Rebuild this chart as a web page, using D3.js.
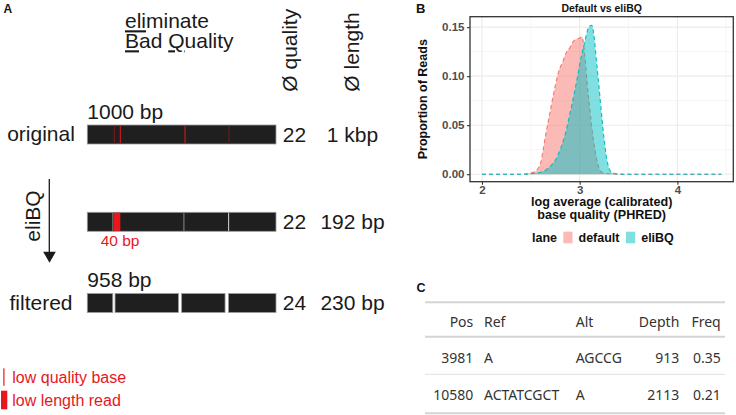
<!DOCTYPE html>
<html>
<head>
<meta charset="utf-8">
<script src="https://cdn.jsdelivr.net/npm/d3@7"></script>
<style>
  html, body { margin: 0; padding: 0; background: #fff; }
  svg { display: block; }
</style>
</head>
<body>
<div id="chart"></div>
<script>
// ---------------- DATA ----------------
// Panel A
const readLengthBp = 1000;
const rowNames = ["original", "eliBQ", "filtered"];
const rowSideLabels = ["original", "", "filtered"];
const rowTopLabels = ["1000 bp", "", "958 bp"];
const rowQuality = [22, 22, 24];
const rowLength = ["1 kbp", "192 bp", "230 bp"];
const lowQualityBases = [143, 175, 518, 751];          // bp positions in original read
const eliBQSeparators = [135, 512, 749];               // bp positions in eliBQ read
const lowLengthRead = [135, 175];                      // bp span (40 bp)
const filteredSegments = [[0, 135], [147, 483], [500, 730], [748, 1000]];
const legendItems = ["low quality base", "low length read"];

// Panel B
const quality = [2.0, 2.4, 2.45, 2.475, 2.5, 2.525, 2.55, 2.575, 2.6, 2.625, 2.65, 2.675, 2.7, 2.725, 2.75, 2.775,
  2.8, 2.825, 2.85, 2.875, 2.9, 2.925, 2.95, 2.975, 3.0, 3.025, 3.05, 3.075, 3.1, 3.125, 3.15, 3.175,
  3.2, 3.225, 3.25, 3.275, 3.3, 3.325, 3.35, 3.4, 3.45, 4.45];
const defaultProp = [0, 0, 0.0003, 0.0006, 0.001, 0.002, 0.003, 0.006, 0.011, 0.024, 0.039, 0.052, 0.065, 0.078, 0.090, 0.101,
  0.109, 0.114, 0.121, 0.126, 0.129, 0.134, 0.137, 0.138, 0.139, 0.140, 0.123, 0.095, 0.070, 0.047, 0.029, 0.015,
  0.006, 0.002, 0.001, 0.0007, 0.0005, 0.0004, 0.0003, 0.0002, 0, 0];
const eliBQProp = [0, 0, 0, 0.0003, 0.0005, 0.0008, 0.001, 0.0015, 0.002, 0.003, 0.004, 0.006, 0.008, 0.011, 0.014, 0.019,
  0.025, 0.032, 0.040, 0.050, 0.062, 0.073, 0.085, 0.098, 0.112, 0.124, 0.134, 0.145, 0.151, 0.152, 0.138, 0.112,
  0.087, 0.060, 0.036, 0.017, 0.006, 0.002, 0.001, 0, 0, 0];
const lanes = ["default", "eliBQ"];
const xTicks = [2, 3, 4];
const xMinor = [2.5, 3.5, 4.5];
const yTicks = [0, 0.05, 0.10, 0.15];
const yMinor = [0.025, 0.075, 0.125];

// Panel C
const tableColumns = ["Pos", "Ref", "Alt", "Depth", "Freq"];
const tablePos = [3981, 10580];
const tableRef = ["A", "ACTATCGCT"];
const tableAlt = ["AGCCG", "A"];
const tableDepth = [913, 2113];
const tableFreq = [0.35, 0.21];

// ---------------- DRAW ----------------
const W = 736, H = 415;
const svg = d3.select("#chart").append("svg").attr("width", W).attr("height", H);
const ARIAL = "'Liberation Sans', Arial, sans-serif";
const RED = "#e8161e";

// ===== Panel A =====
const A = svg.append("g").attr("font-family", ARIAL);
A.append("text").attr("x", 3.5).attr("y", 13.3).attr("font-weight", "bold").attr("font-size", 12)
  .attr("fill", "#111").text("A");

const title1 = A.append("text").attr("x", 125).attr("y", 28.3).attr("font-size", 21).attr("fill", "#1a1a1a");
title1.append("tspan").style("text-decoration", "underline").text("eli");
title1.append("tspan").text("minate");
const title2 = A.append("text").attr("x", 125).attr("y", 48.3).attr("font-size", 21).attr("fill", "#1a1a1a");
title2.append("tspan").style("text-decoration", "underline").text("B");
title2.append("tspan").text("ad ");
title2.append("tspan").style("text-decoration", "underline").text("Q");
title2.append("tspan").text("uality");

A.append("text").attr("transform", "translate(297,91.7) rotate(-90)").attr("font-size", 21)
  .attr("fill", "#1a1a1a").text("Ø quality");
A.append("text").attr("transform", "translate(358.5,91.7) rotate(-90)").attr("font-size", 21)
  .attr("fill", "#1a1a1a").text("Ø length");

const bp = d3.scaleLinear().domain([0, readLengthBp]).range([87.3, 276]);
const rowTop = d3.scaleOrdinal().domain(rowNames).range([125, 212.3, 293.5]);
const barH = 19;
const BAR_FILL = "#1f1f1f", BAR_STROKE = "#9c9c9c";

rowNames.forEach((r, i) => {
  const y0 = rowTop(r);
  if (rowSideLabels[i]) {
    A.append("text").attr("x", 41).attr("y", y0 + 16).attr("text-anchor", "middle")
      .attr("font-size", 21).attr("fill", "#1a1a1a").text(rowSideLabels[i]);
  }
  if (rowTopLabels[i]) {
    A.append("text").attr("x", bp(0)).attr("y", y0 - 6.5).attr("font-size", 21)
      .attr("fill", "#1a1a1a").text(rowTopLabels[i]);
  }
  A.append("text").attr("x", 294.4).attr("y", y0 + barH - 2.3).attr("text-anchor", "middle")
    .attr("font-size", 21).attr("fill", "#1a1a1a").text(rowQuality[i]);
  A.append("text").attr("x", 352.5).attr("y", y0 + barH - 2.3).attr("text-anchor", "middle")
    .attr("font-size", 21).attr("fill", "#1a1a1a").text(rowLength[i]);
});

// original bar
{
  const y0 = rowTop("original");
  A.append("rect").attr("x", bp(0)).attr("y", y0).attr("width", bp(readLengthBp) - bp(0)).attr("height", barH)
    .attr("fill", BAR_FILL).attr("stroke", BAR_STROKE).attr("stroke-width", 0.8);
  const shades = ["#8a1a1a", RED, RED, "#7a1818"];
  A.selectAll(".lq").data(lowQualityBases).enter().append("line")
    .attr("x1", d => bp(d)).attr("x2", d => bp(d)).attr("y1", y0 + 0.5).attr("y2", y0 + barH - 0.5)
    .attr("stroke", (d, i) => shades[i]).attr("stroke-width", 1);
}
// eliBQ bar
{
  const y0 = rowTop("eliBQ");
  A.append("rect").attr("x", bp(0)).attr("y", y0).attr("width", bp(readLengthBp) - bp(0)).attr("height", barH)
    .attr("fill", BAR_FILL).attr("stroke", BAR_STROKE).attr("stroke-width", 0.8);
  const sepCol = ["#7a7a7a", "#8a8a8a", "#d8d8d8"];
  A.selectAll(".sep").data(eliBQSeparators).enter().append("line")
    .attr("x1", d => bp(d)).attr("x2", d => bp(d)).attr("y1", y0 + 0.4).attr("y2", y0 + barH - 0.4)
    .attr("stroke", (d, i) => sepCol[i]).attr("stroke-width", 1);
  A.append("rect").attr("x", bp(lowLengthRead[0]) + 0.6).attr("y", y0 + 0.4)
    .attr("width", bp(lowLengthRead[1]) - bp(lowLengthRead[0]) - 0.6).attr("height", barH - 0.8).attr("fill", RED);
  A.append("text").attr("x", 100.7).attr("y", 246.3).attr("font-size", 15.5).attr("fill", RED)
    .text((lowLengthRead[1] - lowLengthRead[0]) + " bp");
}
// filtered bar
{
  const y0 = rowTop("filtered");
  A.selectAll(".seg").data(filteredSegments).enter().append("rect")
    .attr("x", d => bp(d[0])).attr("y", y0).attr("width", d => bp(d[1]) - bp(d[0])).attr("height", barH)
    .attr("fill", BAR_FILL).attr("stroke", BAR_STROKE).attr("stroke-width", 0.8);
}
// arrow
A.append("line").attr("x1", 49.3).attr("x2", 49.3).attr("y1", 179).attr("y2", 254)
  .attr("stroke", "#1a1a1a").attr("stroke-width", 1.3);
A.append("path").attr("d", "M43.2,251.8 L55.8,251.8 L49.5,262.8 Z").attr("fill", "#1a1a1a");
A.append("text").attr("transform", "translate(39.5,216) rotate(-90)").attr("text-anchor", "middle")
  .attr("font-size", 21).attr("fill", "#1a1a1a").text("eliBQ");

// legend
A.append("rect").attr("x", 3.3).attr("y", 368.3).attr("width", 1.2).attr("height", 17.5).attr("fill", RED);
A.append("rect").attr("x", 1).attr("y", 390.7).attr("width", 6.3).attr("height", 18.6).attr("fill", RED);
A.append("text").attr("x", 12.3).attr("y", 383.3).attr("font-size", 16).attr("fill", RED).text(legendItems[0]);
A.append("text").attr("x", 12.3).attr("y", 406).attr("font-size", 16).attr("fill", RED).text(legendItems[1]);

// ===== Panel B =====
const B = svg.append("g").attr("font-family", ARIAL);
const px0 = 470, px1 = 733.3, py0 = 16.7, py1 = 181.7;
const xs = d3.scaleLinear().domain([1.8775, 4.5725]).range([px0, px1]);
const ys = d3.scaleLinear().domain([-0.00765, 0.16065]).range([py1, py0]);

B.append("text").attr("x", 416).attr("y", 12.7).attr("font-weight", "bold").attr("font-size", 13)
  .attr("fill", "#111").text("B");
B.append("text").attr("x", (px0 + px1) / 2).attr("y", 11.5).attr("text-anchor", "middle")
  .attr("font-weight", "bold").attr("font-size", 10.5).attr("fill", "#111").text("Default vs eliBQ");

B.append("rect").attr("x", px0).attr("y", py0).attr("width", px1 - px0).attr("height", py1 - py0).attr("fill", "#fff");
const grid = B.append("g");
grid.selectAll(".xmin").data(xMinor).enter().append("line")
  .attr("x1", d => xs(d)).attr("x2", d => xs(d)).attr("y1", py0).attr("y2", py1)
  .attr("stroke", "#f0f0f0").attr("stroke-width", 0.6);
grid.selectAll(".ymin").data(yMinor).enter().append("line")
  .attr("y1", d => ys(d)).attr("y2", d => ys(d)).attr("x1", px0).attr("x2", px1)
  .attr("stroke", "#f0f0f0").attr("stroke-width", 0.6);
grid.selectAll(".xmaj").data(xTicks).enter().append("line")
  .attr("x1", d => xs(d)).attr("x2", d => xs(d)).attr("y1", py0).attr("y2", py1)
  .attr("stroke", "#ebebeb").attr("stroke-width", 1.1);
grid.selectAll(".ymaj").data(yTicks).enter().append("line")
  .attr("y1", d => ys(d)).attr("y2", d => ys(d)).attr("x1", px0).attr("x2", px1)
  .attr("stroke", "#ebebeb").attr("stroke-width", 1.1);

const laneColor = d3.scaleOrdinal().domain(lanes).range(["#F8766D", "#00BFC4"]);
const series = [
  { lane: "default", values: quality.map((q, i) => [q, defaultProp[i]]) },
  { lane: "eliBQ", values: quality.map((q, i) => [q, eliBQProp[i]]) }
];
const area = d3.area().x(d => xs(d[0])).y0(ys(0)).y1(d => ys(d[1])).curve(d3.curveMonotoneX);
const line = d3.line().x(d => xs(d[0])).y(d => ys(d[1])).curve(d3.curveMonotoneX);
series.forEach(s => {
  B.append("path").attr("d", area(s.values)).attr("fill", laneColor(s.lane)).attr("fill-opacity", 0.5);
  B.append("path").attr("d", line(s.values)).attr("fill", "none").attr("stroke", laneColor(s.lane))
    .attr("stroke-width", 1.1).attr("stroke-dasharray", "4,3");
});

B.append("rect").attr("x", px0).attr("y", py0).attr("width", px1 - px0).attr("height", py1 - py0)
  .attr("fill", "none").attr("stroke", "#333").attr("stroke-width", 1.3);

const xAxis = d3.axisBottom(xs).tickValues(xTicks).tickSize(3).tickPadding(0.8).tickFormat(d3.format("d"));
const gx = B.append("g").attr("transform", `translate(0,${py1})`).call(xAxis);
const yAxis = d3.axisLeft(ys).tickValues(yTicks).tickSize(3).tickPadding(2.5).tickFormat(d3.format(".2f"));
const gy = B.append("g").attr("transform", `translate(${px0},0)`).call(yAxis);
[gx, gy].forEach(g => {
  g.select(".domain").remove();
  g.selectAll(".tick line").attr("stroke", "#333").attr("stroke-width", 1.1);
  g.selectAll(".tick text").attr("fill", "#4d4d4d").attr("font-weight", "bold").attr("font-size", 11.5)
    .attr("font-family", ARIAL);
});

B.append("text").attr("transform", `translate(426.5,${(py0 + py1) / 2}) rotate(-90)`).attr("text-anchor", "middle")
  .attr("font-weight", "bold").attr("font-size", 12.5).attr("fill", "#111").text("Proportion of Reads");
B.append("text").attr("x", (px0 + px1) / 2).attr("y", 206.2).attr("text-anchor", "middle")
  .attr("font-weight", "bold").attr("font-size", 12.6).attr("fill", "#111").text("log average (calibrated)");
B.append("text").attr("x", (px0 + px1) / 2).attr("y", 218.8).attr("text-anchor", "middle")
  .attr("font-weight", "bold").attr("font-size", 12.6).attr("fill", "#111").text("base quality (PHRED)");

// legend
B.append("text").attr("x", 532).attr("y", 242).attr("font-weight", "bold").attr("font-size", 12.5)
  .attr("fill", "#111").text("lane");
const legX = [563.3, 626];
lanes.forEach((l, i) => {
  B.append("rect").attr("x", legX[i]).attr("y", 231.7).attr("width", 9.2).attr("height", 11.6)
    .attr("fill", laneColor(l)).attr("fill-opacity", 0.5);
  B.append("text").attr("x", legX[i] + 15.2).attr("y", 242).attr("font-weight", "bold").attr("font-size", 12.5)
    .attr("fill", "#111").text(l);
});

// ===== Panel C =====
const C = svg.append("g").attr("font-family", "'Noto Sans', 'Open Sans', sans-serif");
C.append("text").attr("x", 416.5).attr("y", 291.7).attr("font-weight", "bold").attr("font-size", 12.5)
  .attr("font-family", ARIAL).attr("fill", "#111").text("C");
const tx0 = 425, tx1 = 725;
[[302.3, 2], [336.7, 2], [374.3, 1], [413.3, 2]].forEach(([y, w]) => {
  C.append("line").attr("x1", tx0).attr("x2", tx1).attr("y1", y).attr("y2", y)
    .attr("stroke", w > 1 ? "#d4d4d4" : "#e0e0e0").attr("stroke-width", w);
});
const colX = [473.3, 484, 575.7, 679.3, 720.7];
const colAnchor = ["end", "start", "start", "end", "end"];
const TS = 14, TC = "#333";
tableColumns.forEach((c, j) => {
  C.append("text").attr("x", colX[j]).attr("y", 327).attr("text-anchor", colAnchor[j])
    .attr("font-size", TS).attr("fill", TC).text(c);
});
const rowsY = [362.7, 400];
tablePos.forEach((p, i) => {
  const cells = [p, tableRef[i], tableAlt[i], tableDepth[i], d3.format(".2f")(tableFreq[i])];
  cells.forEach((v, j) => {
    C.append("text").attr("x", colX[j]).attr("y", rowsY[i]).attr("text-anchor", colAnchor[j])
      .attr("font-size", TS).attr("fill", TC).text(v);
  });
});
</script>
</body>
</html>
